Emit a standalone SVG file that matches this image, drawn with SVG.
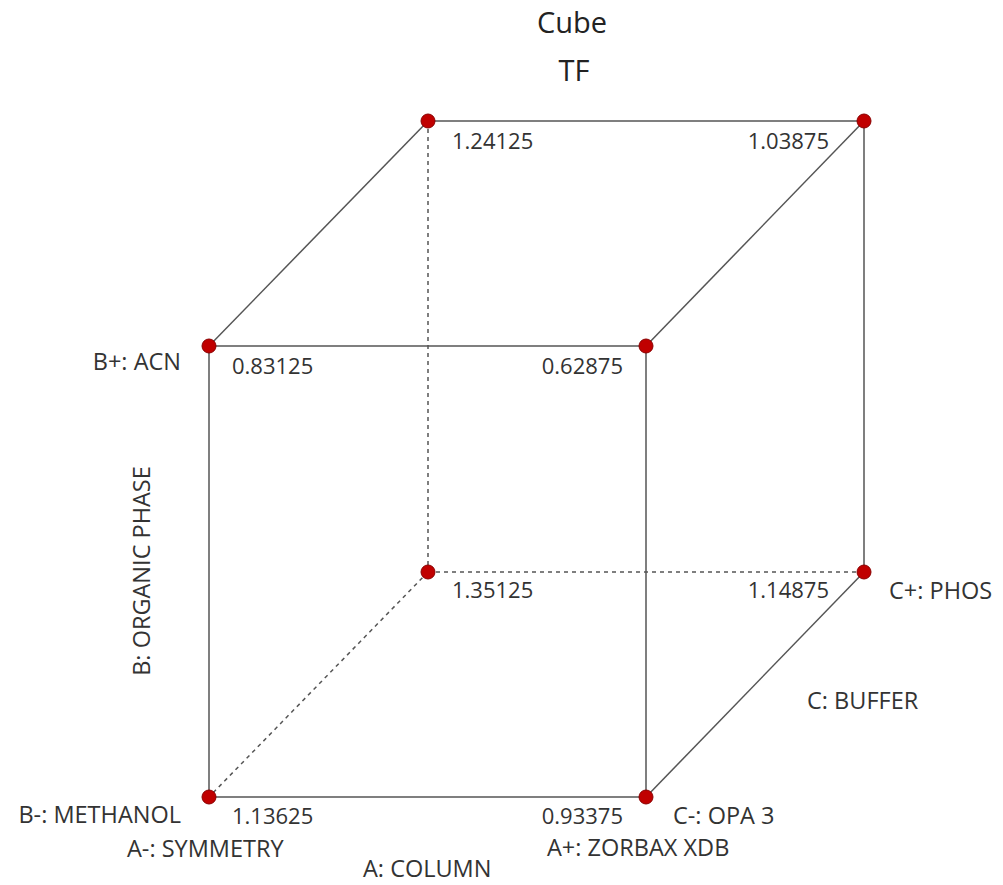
<svg xmlns="http://www.w3.org/2000/svg" width="1003" height="885" viewBox="0 0 1003 885">
<style>
text{font-family:"Open Sans","Noto Sans","Liberation Sans",sans-serif;fill:#333}
.v{font-size:22px}
.l{font-size:23.5px}
.t{font-size:29px;fill:#222;text-anchor:middle}
.e{stroke:#555;stroke-width:1.5;fill:none}
.d{stroke:#555;stroke-width:1.5;fill:none;stroke-dasharray:4 4}
.p{fill:#c00000;stroke:#8a0000;stroke-width:1}
.r{text-anchor:end}
</style>
<rect width="1003" height="885" fill="#fff"/>
<text class="t" x="572" y="33">Cube</text>
<text class="t" x="574" y="81">TF</text>
<g id="connectors">
<line class="e" x1="428" y1="121" x2="864" y2="121"/>
<line class="e" x1="428" y1="121" x2="209" y2="346"/>
<line class="e" x1="864" y1="121" x2="646" y2="346"/>
<line class="e" x1="209" y1="346" x2="646" y2="346"/>
<line class="e" x1="209" y1="346" x2="209" y2="797"/>
<line class="e" x1="646" y1="346" x2="646" y2="797"/>
<line class="e" x1="864" y1="121" x2="864" y2="572"/>
<line class="e" x1="209" y1="797" x2="646" y2="797"/>
<line class="e" x1="864" y1="572" x2="646" y2="797"/>
<line class="d" x1="428" y1="121" x2="428" y2="572"/>
<line class="d" x1="428" y1="572" x2="864" y2="572"/>
<line class="d" x1="428" y1="572" x2="209" y2="797"/>
</g>
<g id="n1"><circle class="p" cx="428" cy="121" r="7"/><text class="v" x="452" y="149">1.24125</text></g>
<g id="n2"><circle class="p" cx="864" cy="121" r="7"/><text class="v r" x="829" y="149">1.03875</text></g>
<g id="n3"><circle class="p" cx="209" cy="346" r="7"/><text class="v" x="232" y="374">0.83125</text><text class="l r" x="181" y="370">B+: ACN</text></g>
<g id="n4"><circle class="p" cx="646" cy="346" r="7"/><text class="v r" x="623" y="374">0.62875</text></g>
<g id="n5"><circle class="p" cx="428" cy="572" r="7"/><text class="v" x="452" y="598">1.35125</text></g>
<g id="n6"><circle class="p" cx="864" cy="572" r="7"/><text class="v r" x="829" y="598">1.14875</text><text class="l" x="889" y="599">C+: PHOS</text></g>
<g id="n7"><circle class="p" cx="209" cy="797" r="7"/><text class="v" x="232" y="824">1.13625</text><text class="l r" x="181" y="823">B-: METHANOL</text></g>
<g id="n8"><circle class="p" cx="646" cy="797" r="7"/><text class="v r" x="623" y="824">0.93375</text><text class="l" x="673" y="824">C-: OPA 3</text></g>
<g id="axes">
<text class="l" x="127" y="857">A-: SYMMETRY</text>
<text class="l" x="547" y="856">A+: ZORBAX XDB</text>
<text class="l" x="363" y="877">A: COLUMN</text>
<text class="l" x="807" y="709">C: BUFFER</text>
<text class="l" transform="translate(150 571) rotate(-90)" text-anchor="middle">B: ORGANIC PHASE</text>
</g>
</svg>
